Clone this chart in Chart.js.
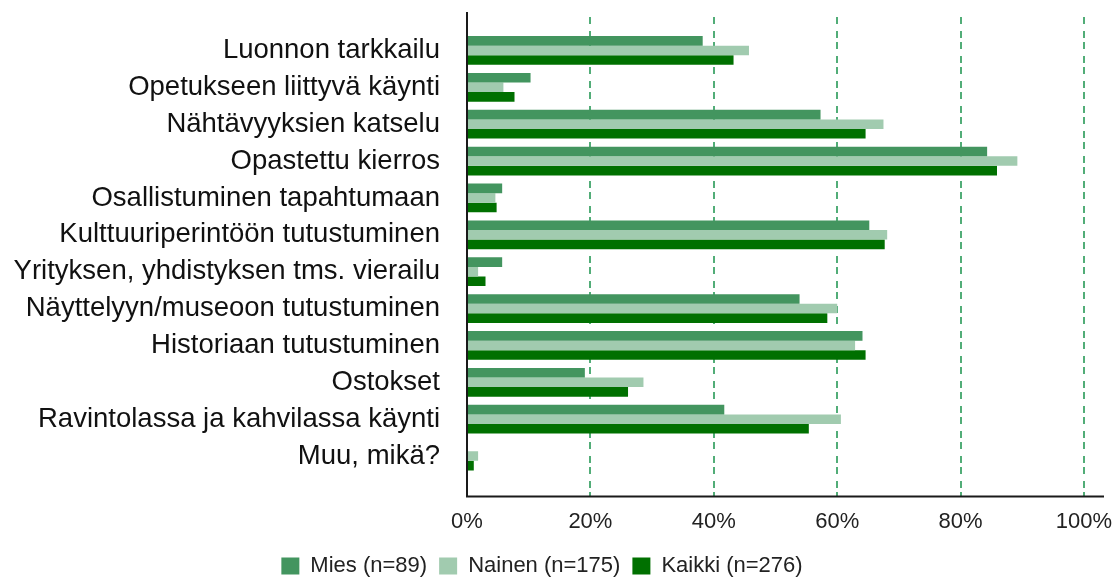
<!DOCTYPE html>
<html>
<head>
<meta charset="utf-8">
<script src="https://cdn.jsdelivr.net/npm/chart.js@4"></script>
<style>
  html, body { margin: 0; padding: 0; background: #fff; }
  canvas { display: block; }
</style>
</head>
<body>
<canvas id="chart" width="1115" height="577"></canvas>
<script>
const categories = [
  'Luonnon tarkkailu',
  'Opetukseen liittyvä käynti',
  'Nähtävyyksien katselu',
  'Opastettu kierros',
  'Osallistuminen tapahtumaan',
  'Kulttuuriperintöön tutustuminen',
  'Yrityksen, yhdistyksen tms. vierailu',
  'Näyttelyyn/museoon tutustuminen',
  'Historiaan tutustuminen',
  'Ostokset',
  'Ravintolassa ja kahvilassa käynti',
  'Muu, mikä?'
];
const seriesNames = ['Mies (n=89)', 'Nainen (n=175)', 'Kaikki (n=276)'];
const mies   = [38.2, 10.3, 57.3, 84.3, 5.7, 65.2, 5.7, 53.9, 64.1, 19.1, 41.7, 0];
const nainen = [45.7, 5.9, 67.5, 89.2, 4.6, 68.1, 1.8, 60.0, 62.9, 28.6, 60.6, 1.8];
const kaikki = [43.2, 7.7, 64.6, 85.9, 4.8, 67.7, 3.0, 58.4, 64.6, 26.1, 55.4, 1.1];
const xTicks = [0, 20, 40, 60, 80, 100];

const colors = ['#43955f', '#a1cbaf', '#007000'];

// gridlines and axis lines reach past the bar area, as in the original
const framePlugin = {
  id: 'frame',
  beforeDatasetsDraw(chart) {
    const ctx = chart.ctx;
    const x = chart.scales.x;
    ctx.save();
    ctx.strokeStyle = '#52ad78';
    ctx.lineWidth = 2;
    ctx.setLineDash([7, 7, 7, 4]);
    xTicks.slice(1).forEach(v => {
      const px = Math.round(x.getPixelForValue(v));
      ctx.beginPath();
      ctx.moveTo(px, 17);
      ctx.lineTo(px, 496);
      ctx.stroke();
    });
    ctx.restore();
  },
  afterDatasetsDraw(chart) {
    const ctx = chart.ctx;
    const left = chart.scales.x.getPixelForValue(0);
    ctx.save();
    ctx.strokeStyle = '#1a1a1a';
    ctx.lineWidth = 2;
    ctx.beginPath();
    ctx.moveTo(left, 12);
    ctx.lineTo(left, 497);
    ctx.moveTo(left - 1, 496.5);
    ctx.lineTo(1104, 496.5);
    ctx.stroke();
    ctx.restore();
  }
};

new Chart(document.getElementById('chart'), {
  type: 'bar',
  data: {
    labels: categories,
    datasets: [
      { label: seriesNames[0], data: mies, backgroundColor: colors[0] },
      { label: seriesNames[1], data: nainen, backgroundColor: colors[1] },
      { label: seriesNames[2], data: kaikki, backgroundColor: colors[2] }
    ]
  },
  options: {
    indexAxis: 'y',
    responsive: false,
    animation: false,
    devicePixelRatio: 1,
    categoryPercentage: 0.78,
    barPercentage: 1,
    layout: { padding: { top: 32, right: 31, bottom: -10, left: 0 } },
    scales: {
      x: {
        min: 0,
        max: 100,
        grid: { display: false, drawTicks: false },
        border: { display: false },
        afterFit: s => {
          s.height = 68.5;
          s.paddingLeft = 0;
          s.paddingRight = 0;
        },
        ticks: {
          stepSize: 20,
          padding: 34,
          color: '#222',
          font: { family: 'Liberation Sans', size: 22 },
          callback: v => v + '%'
        }
      },
      y: {
        grid: { display: false, drawTicks: false },
        border: { display: false },
        afterFit: s => {
          s.width = 467;
          s.paddingTop = 0;
          s.paddingBottom = 0;
        },
        ticks: {
          autoSkip: false,
          padding: 27,
          color: '#111',
          font: { family: 'Liberation Sans', size: 27.5 }
        }
      }
    },
    plugins: {
      legend: {
        position: 'bottom',
        labels: {
          boxWidth: 18,
          boxHeight: 17,
          padding: 12,
          color: '#222',
          font: { family: 'Liberation Sans', size: 22 }
        }
      },
      tooltip: { enabled: false }
    }
  },
  plugins: [framePlugin]
});
</script>
</body>
</html>
